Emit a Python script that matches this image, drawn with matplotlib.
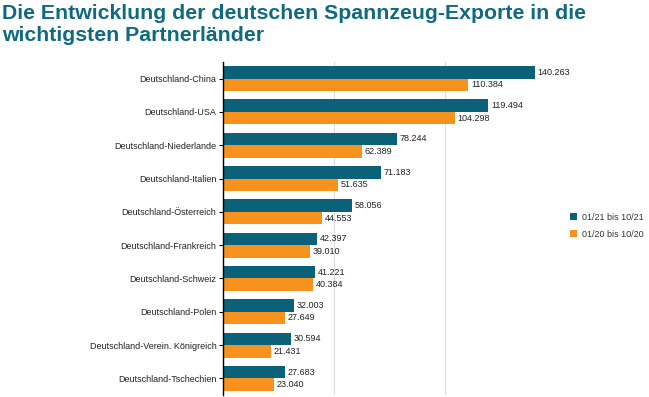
import matplotlib.pyplot as plt
import numpy as np

plt.rcParams["font.family"] = ["Liberation Sans", "DejaVu Sans"]

countries = [
    "Deutschland-China",
    "Deutschland-USA",
    "Deutschland-Niederlande",
    "Deutschland-Italien",
    "Deutschland-Österreich",
    "Deutschland-Frankreich",
    "Deutschland-Schweiz",
    "Deutschland-Polen",
    "Deutschland-Verein. Königreich",
    "Deutschland-Tschechien",
]
exports_2021 = [140.263, 119.494, 78.244, 71.183, 58.056, 42.397, 41.221, 32.003, 30.594, 27.683]
exports_2020 = [110.384, 104.298, 62.389, 51.635, 44.553, 39.010, 40.384, 27.649, 21.431, 23.040]
series_labels = ["01/21 bis 10/21", "01/20 bis 10/20"]

teal = "#0b6178"
orange = "#f7921e"
title_color = "#0e6981"

fig = plt.figure(figsize=(6.49, 3.97), dpi=100)
ax = fig.add_axes([0.344, 0.005, 0.513, 0.839])

y = np.arange(len(countries))
h = 0.375
b1 = ax.barh(y - h / 2, exports_2021, height=h, color=teal, label=series_labels[0], zorder=2)
b2 = ax.barh(y + h / 2, exports_2020, height=h, color=orange, label=series_labels[1], zorder=2)

for bars, vals in [(b1, exports_2021), (b2, exports_2020)]:
    for bar, v in zip(bars, vals):
        ax.text(bar.get_width() + 1.2, bar.get_y() + bar.get_height() / 2, f"{v:.3f}",
                va="center", ha="left", fontsize=6.5, color="#222222")

ax.set_xlim(0, 150)
ax.set_ylim(len(countries) - 0.5, -0.5)
ax.set_xticks([0, 50, 100, 150])
ax.set_xticklabels([])
ax.tick_params(axis="x", length=0)
ax.set_yticks(y)
ax.set_yticklabels(countries, fontsize=6.5, color="#222222")
ax.tick_params(axis="y", length=3, width=0.8, pad=2)
ax.grid(axis="x", color="#dddddd", linewidth=0.8, zorder=0)
for side in ["top", "right", "bottom"]:
    ax.spines[side].set_visible(False)
ax.spines["left"].set_linewidth(1.0)
ax.spines["left"].set_color("black")

fig.legend(loc="upper left", bbox_to_anchor=(0.865, 0.485), frameon=False, fontsize=6.5,
           handlelength=0.8, handleheight=0.8, handletextpad=0.6, labelspacing=0.9,
           labelcolor="#333333")

fig.text(0.003, 0.99, "Die Entwicklung der deutschen Spannzeug-Exporte in die\nwichtigsten Partnerländer",
         ha="left", va="top", fontsize=15.3, fontweight="bold", color=title_color, linespacing=1.2)

fig.savefig("out.png", dpi=100)
